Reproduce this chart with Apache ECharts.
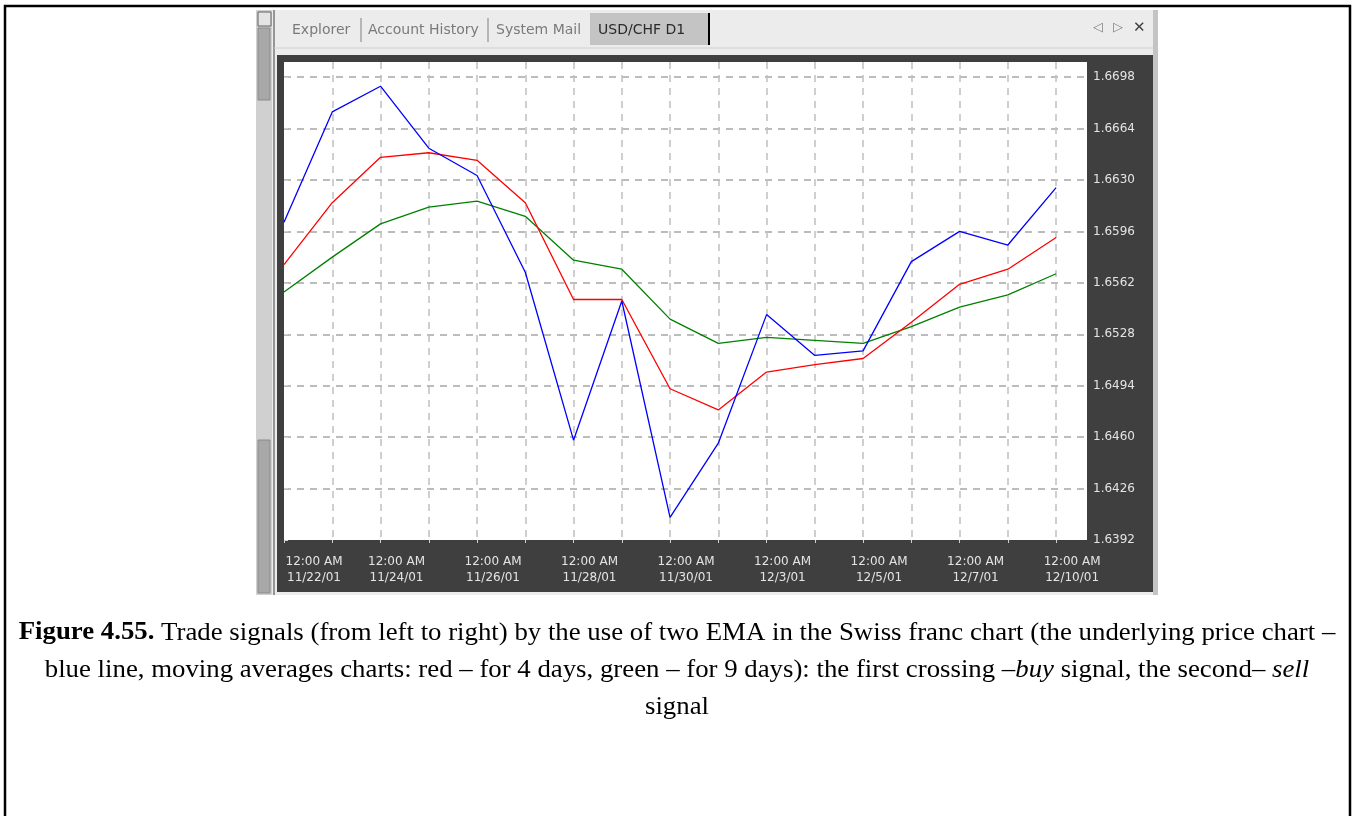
<!DOCTYPE html>
<html>
<head>
<meta charset="utf-8">
<title>USD/CHF D1 - EMA signals</title>
<script src="https://cdn.jsdelivr.net/npm/echarts@6/dist/echarts.min.js"></script>
<style>
  html, body { margin: 0; padding: 0; background: #fff; }
  #main { width: 1355px; height: 816px; }
</style>
</head>
<body>
<div id="main"></div>
<script>
// dates of the daily bars (only every second one is labelled)
const dates = ['11/22/01', '11/23/01', '11/24/01', '11/25/01', '11/26/01', '11/27/01',
  '11/28/01', '11/29/01', '11/30/01', '12/2/01', '12/3/01', '12/4/01', '12/5/01',
  '12/6/01', '12/7/01', '12/9/01', '12/10/01'];
// underlying price (blue)
const price = [1.6602, 1.6675, 1.6692, 1.6651, 1.6633, 1.6569, 1.6458, 1.6550, 1.6407,
  1.6456, 1.6541, 1.6514, 1.6517, 1.6576, 1.6596, 1.6587, 1.6625];
// EMA 4 days (red)
const ema4 = [1.6574, 1.6615, 1.6645, 1.6648, 1.6643, 1.6615, 1.6551, 1.6551, 1.6492,
  1.6478, 1.6503, 1.6508, 1.6512, 1.6536, 1.6561, 1.6571, 1.6592];
// EMA 9 days (green)
const ema9 = [1.6556, 1.6579, 1.6601, 1.6612, 1.6616, 1.6606, 1.6577, 1.6571, 1.6538,
  1.6522, 1.6526, 1.6524, 1.6522, 1.6533, 1.6546, 1.6554, 1.6568];
// price scale
const yMin = 1.6392;
const yStep = 0.0034;
const yMax = 1.6708;
const timeLabel = '12:00 AM';

const tabFont = '"DejaVu Sans", sans-serif';
const capFont = '"Liberation Serif", "Times New Roman", serif';

function toPoints(arr) {
  return arr.map(function (v, i) { return [i, v]; });
}

function capText(y, text) {
  return {
    type: 'text', x: 677, y: y, scaleX: 1.072,
    style: {
      text: text, fill: '#000', fontSize: 25, fontFamily: capFont,
      textAlign: 'center', textVerticalAlign: 'middle',
      rich: {
        b: { fontSize: 25, fontFamily: capFont, fontWeight: 'bold' },
        i: { fontSize: 25, fontFamily: capFont, fontStyle: 'italic' }
      }
    }
  };
}

let myChart = echarts.init(document.getElementById('main'));
myChart.setOption({
  animation: false,
  backgroundColor: '#fff',
  grid: {
    left: 284, right: 268, top: 62, bottom: 276,
    show: true, backgroundColor: '#fff', borderWidth: 0
  },
  xAxis: {
    type: 'value',
    min: 0,
    max: 16.64,
    interval: 1,
    axisLine: { show: false },
    axisTick: { show: true, length: 3, lineStyle: { color: '#d0d0d0' } },
    splitLine: {
      show: true, showMinLine: false, showMaxLine: false,
      lineStyle: { color: '#c0c0c0', type: [7, 6], width: 1.5 }
    },
    axisLabel: {
      margin: 14,
      showMaxLabel: false,
      formatter: function (v) {
        if (v % 2 !== 0 || !dates[v]) return '';
        const k = v === 0 ? 'f' : 'o';
        return '{' + k + '|' + timeLabel + '}\n{' + k + '|' + dates[v] + '}';
      },
      rich: {
        o: { padding: [0, 0, 0, 32], color: '#e4e4e4', fontSize: 12, lineHeight: 16, fontFamily: tabFont },
        f: { padding: [0, 0, 0, 60], color: '#e4e4e4', fontSize: 12, lineHeight: 16, fontFamily: tabFont }
      }
    }
  },
  yAxis: {
    type: 'value',
    position: 'right',
    min: yMin,
    max: yMax,
    interval: yStep,
    axisLine: { show: false },
    axisTick: { show: true, length: 4, lineStyle: { color: '#d0d0d0' } },
    splitLine: {
      show: true, showMinLine: false, showMaxLine: false,
      lineStyle: { color: '#bcbcbc', type: [7, 6], width: 2 }
    },
    axisLabel: {
      margin: 6,
      showMaxLabel: false,
      color: '#e4e4e4',
      fontSize: 12,
      fontFamily: tabFont,
      formatter: function (v) { return v.toFixed(4); }
    }
  },
  series: [
    {
      name: 'EMA 9', type: 'line', data: toPoints(ema9), symbol: 'none',
      lineStyle: { color: '#008000', width: 1.3 }
    },
    {
      name: 'EMA 4', type: 'line', data: toPoints(ema4), symbol: 'none',
      lineStyle: { color: '#ff0000', width: 1.3 }
    },
    {
      name: 'USD/CHF', type: 'line', data: toPoints(price), symbol: 'none',
      lineStyle: { color: '#0000ff', width: 1.3 }
    }
  ],
  graphic: [
    // page border
    {
      type: 'polyline', z: -1,
      shape: { points: [[5, 816], [5, 6], [1350, 6], [1350, 816]] },
      style: { stroke: '#000', lineWidth: 2.5, fill: null }
    },
    // terminal window
    { type: 'rect', z: -1, shape: { x: 256, y: 10, width: 902, height: 585 }, style: { fill: '#ececec' } },
    { type: 'rect', z: -1, shape: { x: 256, y: 10, width: 16, height: 585 }, style: { fill: '#d0d0d0' } },
    { type: 'rect', z: -1, shape: { x: 258, y: 12, width: 13, height: 14 }, style: { fill: '#e4e4e4', stroke: '#606060', lineWidth: 1 } },
    { type: 'rect', z: -1, shape: { x: 258, y: 28, width: 12, height: 72 }, style: { fill: '#a8a8a8', stroke: '#8a8a8a', lineWidth: 1 } },
    { type: 'rect', z: -1, shape: { x: 258, y: 440, width: 12, height: 153 }, style: { fill: '#a8a8a8', stroke: '#8a8a8a', lineWidth: 1 } },
    { type: 'line', z: -1, shape: { x1: 274, y1: 10, x2: 274, y2: 595 }, style: { stroke: '#7a7a7a', lineWidth: 1.5 } },
    { type: 'rect', z: -1, shape: { x: 1153, y: 10, width: 5, height: 585 }, style: { fill: '#c4c4c4' } },
    { type: 'line', z: -1, shape: { x1: 274, y1: 48, x2: 1153, y2: 48 }, style: { stroke: '#d0d0d0', lineWidth: 1 } },
    { type: 'rect', z: -1, shape: { x: 277, y: 55, width: 876, height: 537 }, style: { fill: '#3f3f3f' } },
    // tabs
    { type: 'rect', z: -1, shape: { x: 590, y: 13, width: 118, height: 32 }, style: { fill: '#c4c4c4' } },
    { type: 'line', z: -1, shape: { x1: 709, y1: 13, x2: 709, y2: 45 }, style: { stroke: '#000', lineWidth: 2 } },
    { type: 'line', z: -1, shape: { x1: 361, y1: 18, x2: 361, y2: 42 }, style: { stroke: '#808080', lineWidth: 1 } },
    { type: 'line', z: -1, shape: { x1: 488, y1: 18, x2: 488, y2: 42 }, style: { stroke: '#808080', lineWidth: 1 } },
    { type: 'text', x: 292, y: 30, style: { text: 'Explorer', fill: '#7a7a7a', fontSize: 14, fontFamily: tabFont, textVerticalAlign: 'middle' } },
    { type: 'text', x: 368, y: 30, style: { text: 'Account History', fill: '#7a7a7a', fontSize: 14, fontFamily: tabFont, textVerticalAlign: 'middle' } },
    { type: 'text', x: 496, y: 30, style: { text: 'System Mail', fill: '#7a7a7a', fontSize: 14, fontFamily: tabFont, textVerticalAlign: 'middle' } },
    { type: 'text', x: 598, y: 30, style: { text: 'USD/CHF D1', fill: '#2a2a2a', fontSize: 14, fontFamily: tabFont, textVerticalAlign: 'middle' } },
    { type: 'text', x: 1093, y: 28, style: { text: '◁', fill: '#808080', fontSize: 13, fontFamily: tabFont, textVerticalAlign: 'middle' } },
    { type: 'text', x: 1113, y: 28, style: { text: '▷', fill: '#808080', fontSize: 13, fontFamily: tabFont, textVerticalAlign: 'middle' } },
    { type: 'text', x: 1133, y: 28, style: { text: '✕', fill: '#404040', fontSize: 15, fontWeight: 'bold', fontFamily: tabFont, textVerticalAlign: 'middle' } },
    // caption
    capText(633, '{b|Figure 4.55.} Trade signals (from left to right) by the use of two EMA in the Swiss franc chart (the underlying price chart –'),
    capText(670, 'blue line, moving averages charts: red – for 4 days, green – for 9 days): the first crossing –{i|buy} signal, the second– {i|sell}'),
    capText(707, 'signal')
  ]
});
</script>
</body>
</html>
